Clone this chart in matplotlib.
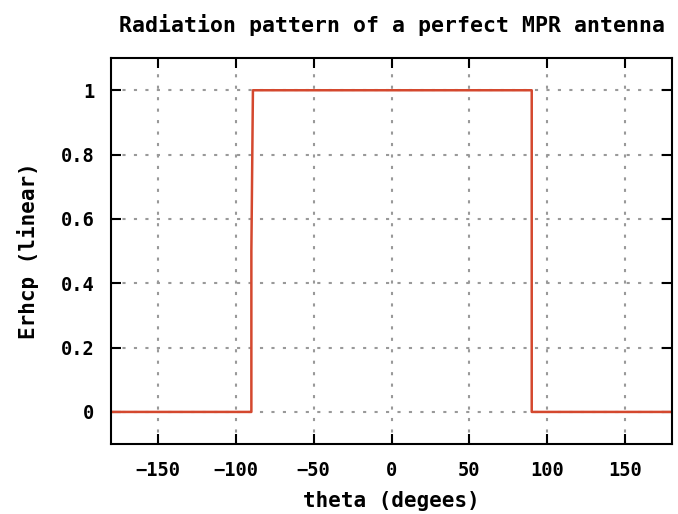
import matplotlib.pyplot as plt

# datos del patrón (theta en grados, amplitud lineal)
theta = [-180, -90, -90, -89, 90, 90, 180]
erhcp = [0, 0, 0.5, 1, 1, 0, 0]

x_ticks = [-150, -100, -50, 0, 50, 100, 150]
y_ticks = [0, 0.2, 0.4, 0.6, 0.8, 1]
y_labels = ["0", "0.2", "0.4", "0.6", "0.8", "1"]

font = {"family": "DejaVu Sans Mono", "weight": "bold"}

fig = plt.figure(figsize=(6.78, 5.14), dpi=100)
ax = fig.add_axes([0.164, 0.136, 0.827, 0.751])

ax.plot(theta, erhcp, color="#d4482e", linewidth=1.8)

ax.set_xlim(-180, 180)
ax.set_ylim(-0.1, 1.1)
ax.set_xticks(x_ticks)
ax.set_yticks(y_ticks)
ax.set_yticklabels(y_labels)

ax.grid(True, color="#999999", linestyle=(0, (1.5, 4)), linewidth=1.5)
ax.tick_params(direction="in", length=7, width=1.5, top=True, right=True,
               labelsize=13.5, pad=12)
for lab in ax.get_xticklabels() + ax.get_yticklabels():
    lab.set_fontfamily("DejaVu Sans Mono")
    lab.set_fontweight("bold")
for s in ax.spines.values():
    s.set_linewidth(1.5)

ax.set_title("Radiation pattern of a perfect MPR antenna", fontsize=15.5, pad=19, **font)
ax.set_xlabel("theta (degees)", fontsize=15, labelpad=8, **font)
ax.set_ylabel("Erhcp (linear)", fontsize=15, labelpad=16, **font)

fig.savefig("out.png", dpi=100)
